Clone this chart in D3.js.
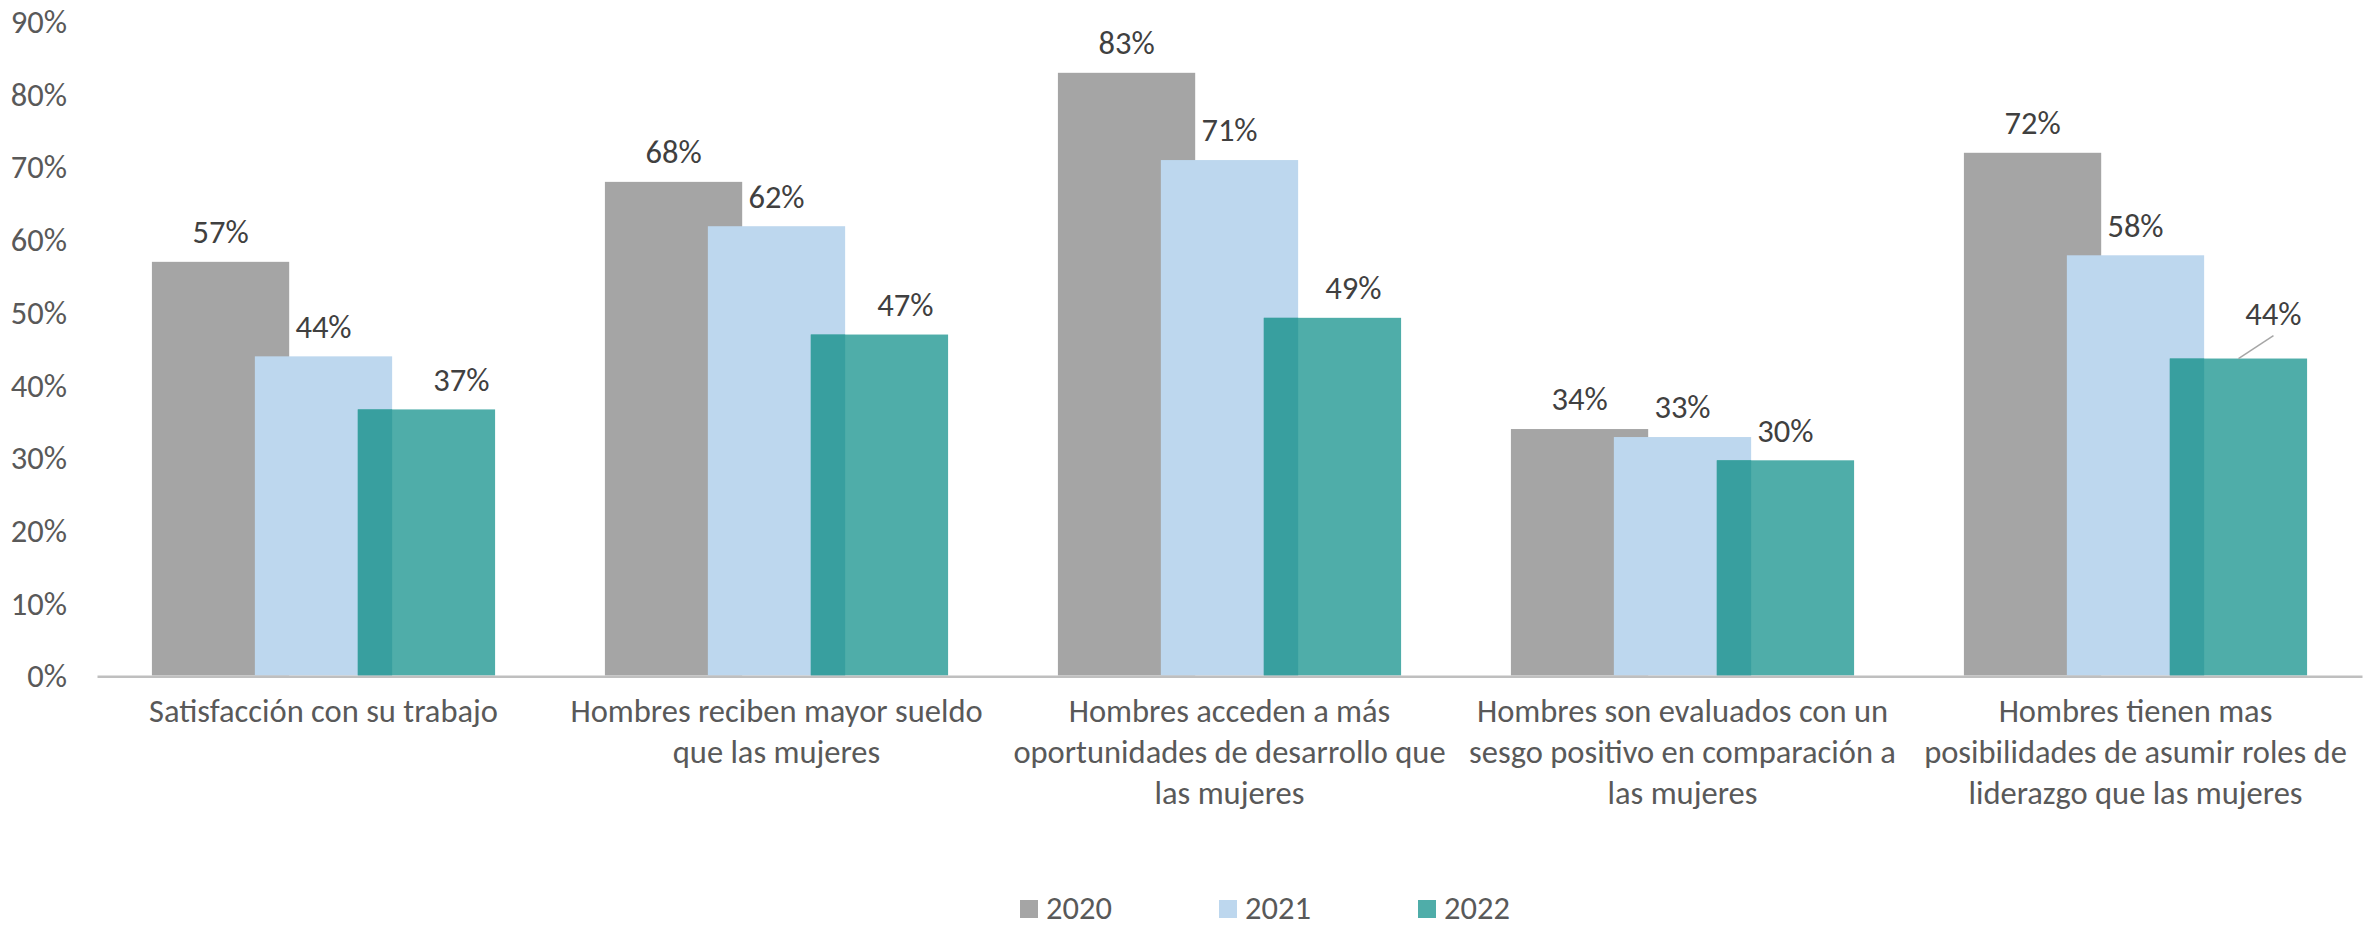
<!DOCTYPE html>
<html>
<head>
<meta charset="utf-8">
<script src="https://cdn.jsdelivr.net/npm/d3@7"></script>
<style>
  html, body { margin: 0; padding: 0; background: #ffffff; }
  svg { display: block; }
  text { font-family: Carlito, Calibri, Lato, sans-serif; }
</style>
</head>
<body>
<svg id="chart" width="2377" height="928"></svg>
<script>
// Survey categories and their wrapped axis labels
const categories = [
  "Satisfacción con su trabajo",
  "Hombres reciben mayor sueldo que las mujeres",
  "Hombres acceden a más oportunidades de desarrollo que las mujeres",
  "Hombres son evaluados con un sesgo positivo en comparación a las mujeres",
  "Hombres tienen mas posibilidades de asumir roles de liderazgo que las mujeres"
];
const categoryLines = [
  ["Satisfacción con su trabajo"],
  ["Hombres reciben mayor sueldo", "que las mujeres"],
  ["Hombres acceden a más", "oportunidades de desarrollo que", "las mujeres"],
  ["Hombres son evaluados con un", "sesgo positivo en comparación a", "las mujeres"],
  ["Hombres tienen mas", "posibilidades de asumir roles de", "liderazgo que las mujeres"]
];

// Series
const years = ["2020", "2021", "2022"];
const values2020 = [0.569, 0.679, 0.829, 0.339, 0.719];
const values2021 = [0.439, 0.618, 0.709, 0.328, 0.578];
const values2022 = [0.366, 0.469, 0.492, 0.296, 0.436];

// Value axis ticks
const yTicks = [0, 0.1, 0.2, 0.3, 0.4, 0.5, 0.6, 0.7, 0.8, 0.9];

// Styling
const colors = ["#a5a5a5", "#bdd7ee", "#4fada9"];
const overlapColor = "#389f9f";
const fontSize = 32.5;
const overlap = 0.25;     // bars of a group overlap by 25% of their width
const gapWidth = 0.8;     // gap between groups as a share of bar width

// Nudges for the 2022 data labels (dx, dy in px)
const label2022Dx = [35, 26, 21, 0, 35];
const label2022Dy = [0, 0, 0, 0, -15];

const svg = d3.select("#chart");
const plot = { left: 97, right: 2362, top: 21.2, bottom: 675.5 };

const x = d3.scaleBand()
  .domain(categories)
  .range([plot.left, plot.right])
  .padding(0);

const y = d3.scaleLinear()
  .domain([0, 0.9])
  .range([plot.bottom, plot.top]);

const fmt = d3.format(".0%");

const series = [values2020, values2021, values2022];
const barW = x.bandwidth() / (1 + 2 * (1 - overlap) + gapWidth);
const step = barW * (1 - overlap);

function barX(ci, si) {
  const cx = x(categories[ci]) + x.bandwidth() / 2;
  return cx + (si - 1) * step - barW / 2;
}

// Y axis labels (no line, no ticks)
const yAxis = d3.axisLeft(y).tickValues(yTicks).tickFormat(fmt).tickSize(0).tickPadding(0);
const gy = svg.append("g")
  .attr("transform", `translate(${plot.left - 30},0)`)
  .call(yAxis);
gy.select(".domain").remove();
gy.selectAll("text")
  .attr("fill", "#595959")
  .style("font-size", fontSize + "px")
  .attr("dy", "0.35em");

// Bars
series.forEach((vals, si) => {
  svg.append("g")
    .selectAll("rect")
    .data(vals)
    .join("rect")
    .attr("x", (d, ci) => barX(ci, si))
    .attr("y", d => y(d))
    .attr("width", barW)
    .attr("height", d => y(0) - y(d))
    .attr("fill", colors[si]);
});

// Darker teal where the 2022 bar sits over the 2021 bar
svg.append("g")
  .selectAll("rect")
  .data(values2022)
  .join("rect")
  .attr("x", (d, ci) => barX(ci, 2))
  .attr("y", (d, ci) => y(Math.min(d, values2021[ci])))
  .attr("width", (d, ci) => barX(ci, 1) + barW - barX(ci, 2))
  .attr("height", (d, ci) => y(0) - y(Math.min(d, values2021[ci])))
  .attr("fill", overlapColor);

// Category axis line
const xAxis = d3.axisBottom(x).tickSize(0).tickFormat("");
const gx = svg.append("g")
  .attr("transform", `translate(0,${plot.bottom + 0.8})`)
  .call(xAxis);
gx.select(".domain").attr("stroke", "#bfbfbf").attr("stroke-width", 2.6);

// Category labels, wrapped into lines
const lineGap = 41;
const firstLineY = 711;
categories.forEach((c, ci) => {
  const t = svg.append("text")
    .attr("x", x(c) + x.bandwidth() / 2)
    .attr("text-anchor", "middle")
    .attr("fill", "#595959")
    .style("font-size", fontSize + "px");
  categoryLines[ci].forEach((line, li) => {
    t.append("tspan")
      .attr("x", x(c) + x.bandwidth() / 2)
      .attr("y", firstLineY + li * lineGap)
      .attr("dy", "0.35em")
      .text(line);
  });
});

// Data labels
const labelGap = 30;
series.forEach((vals, si) => {
  vals.forEach((v, ci) => {
    const dx = si === 2 ? label2022Dx[ci] : 0;
    const dy = si === 2 ? label2022Dy[ci] : 0;
    const cx = barX(ci, si) + barW / 2;
    const ly = y(v) - labelGap + dy;
    svg.append("text")
      .attr("x", cx + dx)
      .attr("y", ly)
      .attr("dy", "0.35em")
      .attr("text-anchor", "middle")
      .attr("fill", "#404040")
      .style("font-size", fontSize + "px")
      .text(fmt(v));
    if (dy !== 0) {
      // leader line from a displaced label back to its bar
      svg.append("line")
        .attr("x1", cx + dx)
        .attr("y1", ly + 22)
        .attr("x2", cx)
        .attr("y2", y(v))
        .attr("stroke", "#a6a6a6")
        .attr("stroke-width", 1.5);
    }
  });
});

// Legend
const legendX = 1020;
const legendStep = 199;
const legendY = 908;
const lg = svg.append("g");
years.forEach((yr, i) => {
  lg.append("rect")
    .attr("x", legendX + i * legendStep)
    .attr("y", legendY - 8)
    .attr("width", 18)
    .attr("height", 18)
    .attr("fill", colors[i]);
  lg.append("text")
    .attr("x", legendX + i * legendStep + 26)
    .attr("y", legendY)
    .attr("dy", "0.35em")
    .attr("fill", "#595959")
    .style("font-size", fontSize + "px")
    .text(yr);
});
</script>
</body>
</html>
